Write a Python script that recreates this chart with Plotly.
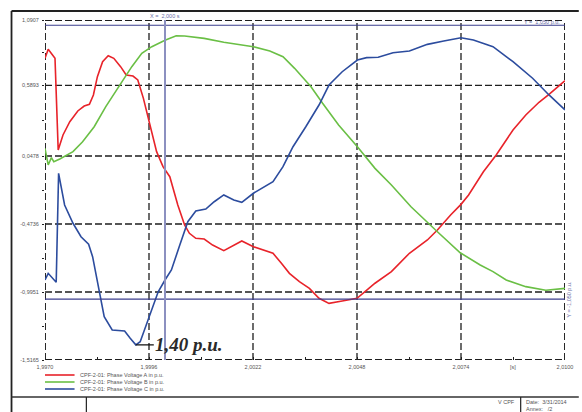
import plotly.graph_objects as go

# Phase A voltage (p.u.)
t_a = [1.99700, 1.99708, 1.99725, 1.99733, 1.99745, 1.99762, 1.99782, 1.99798, 1.99811,
       1.99821, 1.99831, 1.99844, 1.99858, 1.99872, 1.99889, 1.99903, 1.99920, 1.99932,
       1.99946, 1.99963, 1.99979, 1.99995, 2.00012, 2.00032, 2.00049, 2.00061, 2.00077,
       2.00098, 2.00119, 2.00147, 2.00172, 2.00192, 2.00221, 2.00246, 2.00270, 2.00291,
       2.00311, 2.00336, 2.00361, 2.00385, 2.00410, 2.00443, 2.00480, 2.00500, 2.00525,
       2.00566, 2.00611, 2.00656, 2.00681, 2.00714, 2.00740, 2.00759, 2.00796, 2.00828,
       2.00870, 2.00902, 2.00935, 2.00960, 2.01000]
v_a = [0.797, 0.866, 0.797, 0.094, 0.209, 0.311, 0.393, 0.431, 0.444,
       0.516, 0.656, 0.771, 0.817, 0.797, 0.733, 0.669, 0.661, 0.631,
       0.490, 0.286, 0.081, -0.034, -0.111, -0.328, -0.481, -0.545, -0.583,
       -0.589, -0.635, -0.678, -0.635, -0.604, -0.648, -0.673, -0.698, -0.775,
       -0.852, -0.916, -0.967, -1.043, -1.082, -1.064, -1.043, -0.993, -0.928,
       -0.839, -0.698, -0.596, -0.520, -0.405, -0.323, -0.251, -0.073, 0.056,
       0.247, 0.362, 0.460, 0.521, 0.625]

# Phase B voltage (p.u.)
t_b = [1.99700, 1.99708, 1.99716, 1.99722, 1.99737, 1.99770, 1.99794, 1.99823, 1.99852,
       1.99885, 1.99917, 1.99942, 1.99967, 2.00000, 2.00028, 2.00049, 2.00098, 2.00147,
       2.00221, 2.00262, 2.00295, 2.00324, 2.00365, 2.00394, 2.00434, 2.00481, 2.00525,
       2.00566, 2.00615, 2.00681, 2.00738, 2.00788, 2.00820, 2.00853, 2.00902, 2.00952,
       2.01000]
v_b = [0.107, -0.021, 0.035, 0.004, 0.025, 0.081, 0.157, 0.272, 0.426,
       0.579, 0.733, 0.835, 0.886, 0.935, 0.970, 0.968, 0.950, 0.920,
       0.886, 0.853, 0.809, 0.720, 0.579, 0.452, 0.286, 0.119, -0.047,
       -0.175, -0.341, -0.533, -0.694, -0.788, -0.839, -0.903, -0.954, -0.982,
       -0.967]

# Phase C voltage (p.u.)
t_c = [1.99700, 1.99708, 1.99728, 1.99734, 1.99749, 1.99770, 1.99790, 1.99809, 1.99819,
       1.99834, 1.99848, 1.99868, 1.99899, 1.99913, 1.99927, 1.99938, 1.99959, 1.99983,
       2.00000, 2.00016, 2.00037, 2.00057, 2.00077, 2.00102, 2.00123, 2.00147, 2.00172,
       2.00192, 2.00221, 2.00246, 2.00270, 2.00295, 2.00320, 2.00352, 2.00385, 2.00410,
       2.00443, 2.00481, 2.00504, 2.00533, 2.00570, 2.00611, 2.00656, 2.00697, 2.00740,
       2.00771, 2.00820, 2.00870, 2.00919, 2.00960, 2.01000]
v_c = [-0.903, -0.852, -0.921, -0.085, -0.328, -0.468, -0.571, -0.629, -0.724,
       -0.967, -1.185, -1.286, -1.294, -1.350, -1.400, -1.376, -1.197, -0.993,
       -0.903, -0.826, -0.635, -0.456, -0.374, -0.359, -0.303, -0.251, -0.290,
       -0.307, -0.238, -0.195, -0.149, -0.034, 0.119, 0.272, 0.439, 0.592,
       0.694, 0.784, 0.802, 0.805, 0.840, 0.853, 0.904, 0.930, 0.955,
       0.937, 0.886, 0.771, 0.644, 0.516, 0.401]

series_names = ["CPF-2-01: Phase Voltage A in p.u.",
                "CPF-2-01: Phase Voltage B in p.u.",
                "CPF-2-01: Phase Voltage C in p.u."]
series_colors = ["#e8232a", "#6abf45", "#2c4c9e"]

x_ticks = [1.9970, 1.9996, 2.0022, 2.0048, 2.0074, 2.0100]
x_labels = ["1,9970", "1,9996", "2,0022", "2,0048", "2,0074", "2,0100"]
y_ticks = [1.0907, 0.5893, 0.0478, -0.4736, -0.9951, -1.5165]
y_labels = ["1,0907", "0,5893", "0,0478", "-0,4736", "-0,9951", "-1,5165"]

x_cursor = 2.000
y_limits = [1.050, -1.050]
min_label_t, min_label_v = 1.99927, -1.40

# plot area in pixels: x 45..573, y 20..360
L, R, T, B = 45, 573, 20, 360
W, H = 582, 412


def px(x):
    return (x - L) / (R - L)


def py(y):
    return (B - y) / (B - T)


fig = go.Figure()
for t, v, name, col in zip([t_a, t_b, t_c], [v_a, v_b, v_c], series_names, series_colors):
    fig.add_trace(go.Scatter(x=t, y=v, mode="lines", name=name,
                             line=dict(color=col, width=1.6), showlegend=False))

shapes = []
grid_dash = "7px,3px"
for i, xv in enumerate(x_ticks):
    edge = i in (0, len(x_ticks) - 1)
    shapes.append(dict(type="line", xref="x", yref="paper", x0=xv, x1=xv, y0=0, y1=1,
                       line=dict(color="#1e1e1e", width=1.9 if edge else 1.3, dash=grid_dash),
                       layer="below"))
for i, yv in enumerate(y_ticks):
    edge = i in (0, len(y_ticks) - 1)
    shapes.append(dict(type="line", xref="paper", yref="y", x0=0, x1=1, y0=yv, y1=yv,
                       line=dict(color="#1e1e1e", width=1.9 if edge else 1.3, dash=grid_dash),
                       layer="below"))

# limit lines and time cursor
for yl in y_limits:
    shapes.append(dict(type="line", xref="paper", yref="y", x0=0, x1=1, y0=yl, y1=yl,
                       line=dict(color="#3a3d8c", width=1.1)))
shapes.append(dict(type="line", xref="x", yref="paper", x0=x_cursor, x1=x_cursor, y0=0, y1=1,
                   line=dict(color="#8c90c0", width=2)))

# page frame
frame = dict(color="#222", width=1.8)
shapes.append(dict(type="line", xref="paper", yref="paper", x0=px(11), x1=px(W + 5),
                   y0=py(11), y1=py(11), line=frame))
shapes.append(dict(type="line", xref="paper", yref="paper", x0=px(11), x1=px(11),
                   y0=py(11), y1=py(H + 5), line=frame))
shapes.append(dict(type="line", xref="paper", yref="paper", x0=px(11), x1=px(W + 5),
                   y0=py(397), y1=py(397), line=dict(color="#333", width=1.5)))
shapes.append(dict(type="line", xref="paper", yref="paper", x0=px(87), x1=px(87),
                   y0=py(397), y1=py(H + 5), line=dict(color="#222", width=1.2)))
shapes.append(dict(type="line", xref="paper", yref="paper", x0=px(528), x1=px(528),
                   y0=py(397), y1=py(H + 5), line=dict(color="#222", width=1.2)))

# legend samples
leg_y = [375, 382, 389]
for col, yy in zip(series_colors, leg_y):
    shapes.append(dict(type="line", xref="paper", yref="paper", x0=px(45), x1=px(75),
                       y0=py(yy), y1=py(yy), line=dict(color=col, width=1.6)))

small = dict(family="Arial, Liberation Sans, sans-serif", size=5.5, color="#555")
ann = []
for name, yy in zip(series_names, leg_y):
    ann.append(dict(xref="paper", yref="paper", x=px(78), y=py(yy), text=name,
                    showarrow=False, xanchor="left", yanchor="middle", font=small))

ann.append(dict(xref="x", yref="paper", x=x_cursor, y=py(16), text="X =  2,000 s",
                showarrow=False, xanchor="center", yanchor="middle",
                font=dict(family="Arial, sans-serif", size=5.5, color="#6b70a8")))
ann.append(dict(xref="paper", yref="paper", x=px(570), y=py(22.5), text="Y =  1,050 p.u.",
                showarrow=False, xanchor="right", yanchor="middle",
                font=dict(family="Arial, sans-serif", size=5.5, color="#6b70a8")))
ann.append(dict(xref="paper", yref="y", x=px(577.5), y=y_limits[1], text="Y = -1,050 p.u.",
                showarrow=False, textangle=-90, xanchor="center", yanchor="middle",
                font=dict(family="Arial, sans-serif", size=5.5, color="#6b70a8")))
ann.append(dict(xref="paper", yref="paper", x=px(520), y=py(367), text="[s]",
                showarrow=False, xanchor="center", yanchor="middle", font=small))

# value marker at the phase C minimum
ann.append(dict(xref="x", yref="y", x=min_label_t, y=min_label_v, text="<b><i>1,40 p.u.</i></b>",
                showarrow=True, arrowhead=0, arrowwidth=1.2, arrowcolor="#111",
                ax=18, ay=0, xanchor="left", yanchor="middle", standoff=0,
                font=dict(family="Liberation Serif, Times New Roman, serif", size=19,
                          color="#2a2a2a"),
                borderpad=0))
# title block
ann.append(dict(xref="paper", yref="paper", x=px(524), y=py(402), text="V CPF",
                showarrow=False, xanchor="right", yanchor="middle", font=small))
ann.append(dict(xref="paper", yref="paper", x=px(531), y=py(402), text="Date:  3/31/2014",
                showarrow=False, xanchor="left", yanchor="middle", font=small))
ann.append(dict(xref="paper", yref="paper", x=px(531), y=py(408.5), text="Annex:   /2",
                showarrow=False, xanchor="left", yanchor="middle", font=small))

fig.update_layout(
    width=W, height=H, autosize=False,
    margin=dict(l=L, r=W - R, t=T, b=H - B, pad=0),
    paper_bgcolor="white", plot_bgcolor="white",
    shapes=shapes, annotations=ann,
    xaxis=dict(range=[x_ticks[0], x_ticks[-1]], tickvals=x_ticks, ticktext=x_labels,
               showgrid=False, zeroline=False, showline=False,
               ticks="inside", ticklen=3, tickcolor="#222", tickwidth=1,
               minor=dict(tickvals=[(a + b) / 2 for a, b in zip(x_ticks[:-1], x_ticks[1:])],
                          ticks="inside", ticklen=3, tickcolor="#222", showgrid=False),
               tickfont=small, ticklabelstandoff=2),
    yaxis=dict(range=[y_ticks[-1], y_ticks[0]], tickvals=y_ticks, ticktext=y_labels,
               showgrid=False, zeroline=False, showline=False,
               ticks="outside", ticklen=2, tickcolor="#222", tickwidth=1,
               minor=dict(tickvals=[(a + b) / 2 for a, b in zip(y_ticks[:-1], y_ticks[1:])],
                          ticks="outside", ticklen=2, tickcolor="#222", showgrid=False),
               tickfont=small, ticklabelstandoff=2),
)

fig.write_html("out.html")
